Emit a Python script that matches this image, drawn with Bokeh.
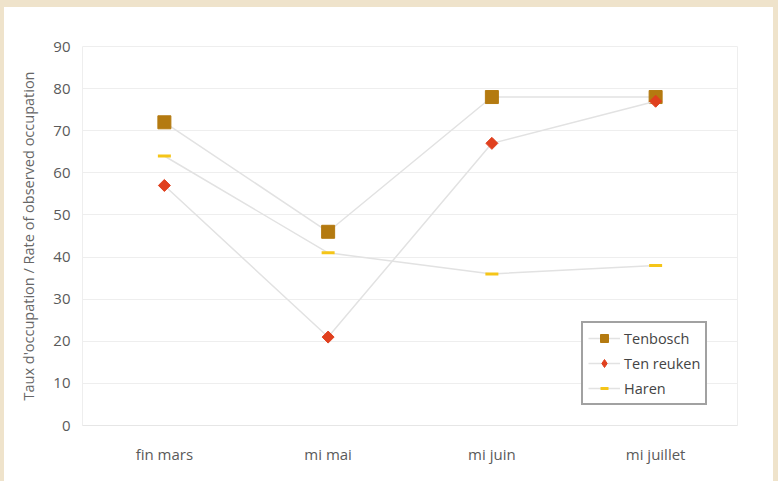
import math
from bokeh.plotting import figure
from bokeh.models import FactorRange, Range1d, Legend, LegendItem, Div, SingleIntervalTicker
from bokeh.layouts import column, row
from bokeh.embed import file_html
from bokeh.resources import INLINE

# Survey periods and observed occupation rates (%)
periods = ["fin mars", "mi mai", "mi juin", "mi juillet"]
tenbosch = [72, 46, 78, 78]
ten_reuken = [57, 21, 67, 77]
haren = [64, 41, 36, 38]

FONT = "Open Sans"
BEIGE = "#efe3cb"
LINE = "#e2e2e2"
C_TEN = "#b47a10"
C_REU = "#e0401e"
C_HAR = "#f5c518"

p = figure(
    x_range=FactorRange(*periods, range_padding=0),
    y_range=Range1d(0, 90),
    width=769, height=474,
    output_backend="svg", toolbar_location=None,
    min_border_left=78, min_border_right=36,
    min_border_top=39, min_border_bottom=56,
    margin=0,
)
p.background_fill_color = "white"
p.border_fill_color = "white"
p.outline_line_color = "#eeeeee"

p.xgrid.grid_line_color = None
p.ygrid.grid_line_color = "#eeeeee"
p.yaxis.ticker = SingleIntervalTicker(interval=10)

for ax in (p.xaxis[0], p.yaxis[0]):
    ax.major_tick_line_color = None
    ax.minor_tick_line_color = None
    ax.major_label_text_font = FONT
    ax.major_label_text_font_size = "15px"
    ax.major_label_text_color = "#5a5a5a"
p.xaxis.axis_line_color = "#e6e6e6"
p.yaxis.axis_line_color = None
p.xaxis.major_label_standoff = 12
p.yaxis.major_label_standoff = 6
p.yaxis.axis_label = "Taux d'occupation / Rate of observed occupation"
p.yaxis.axis_label_text_font = FONT
p.yaxis.axis_label_text_font_style = "normal"
p.yaxis.axis_label_text_font_size = "14.5px"
p.yaxis.axis_label_text_color = "#666666"
p.yaxis.axis_label_standoff = 12

l1 = p.line(periods, tenbosch, line_color=LINE, line_width=1.5)
m1 = p.scatter(periods, tenbosch, marker="square", size=13,
               fill_color=C_TEN, line_color=C_TEN)
l2 = p.line(periods, ten_reuken, line_color=LINE, line_width=1.5)
m2 = p.scatter(periods, ten_reuken, marker="square", size=8.5, angle=math.pi / 4,
               fill_color=C_REU, line_color=C_REU)
l3 = p.line(periods, haren, line_color=LINE, line_width=1.5)
m3 = p.scatter(periods, haren, marker="dash", size=13, line_width=3,
               line_color=C_HAR)

# legend swatch for the rotated-square marker; its single point sits below the
# visible y range so it only shows up in the legend
key2 = p.scatter([periods[0]], [-50], marker="diamond", size=18,
                 fill_color=C_REU, line_color=C_REU)

legend = Legend(
    items=[
        LegendItem(label="Tenbosch", renderers=[l1, m1]),
        LegendItem(label="Ten reuken", renderers=[l2, key2]),
        LegendItem(label="Haren", renderers=[l3, m3]),
    ],
    location=(499, 20),
    border_line_color="#444444", border_line_width=2,
    label_text_font=FONT, label_text_font_size="14.5px",
    label_text_color="#444444",
    padding=5, spacing=5, glyph_width=32, glyph_height=20,
    label_standoff=4, margin=0,
)
p.add_layout(legend, "center")

top = Div(width=778, height=7, margin=0, styles={"background-color": BEIGE})
left = Div(width=4, height=474, margin=0, styles={"background-color": BEIGE})
right = Div(width=5, height=474, margin=0, styles={"background-color": BEIGE})
layout = column(top, row(left, p, right, spacing=0, margin=0), spacing=0, margin=0)

open("out.html", "w").write(file_html(layout, INLINE))
